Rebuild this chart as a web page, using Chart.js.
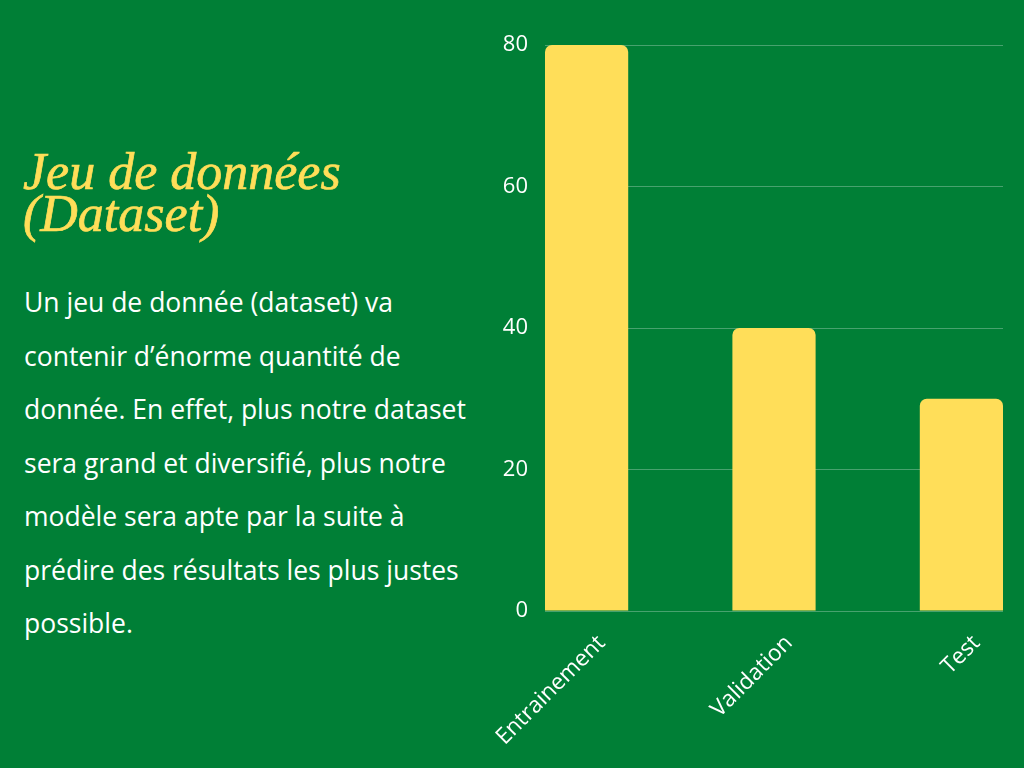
<!DOCTYPE html>
<html><head><meta charset="utf-8">
<script src="https://cdn.jsdelivr.net/npm/chart.js@4/dist/chart.umd.min.js"></script>
<style>
html,body{margin:0;padding:0;}
body{width:1024px;height:768px;background:#007F36;position:relative;overflow:hidden;}
#title{position:absolute;left:23px;top:151px;font-family:"Liberation Serif",serif;font-style:italic;font-size:52px;line-height:42px;color:#FFDE59;white-space:nowrap;-webkit-text-stroke:0.7px #FFDE59;}
#para{position:absolute;left:24px;top:276px;font-family:"Open Sans",sans-serif;font-size:26.5px;line-height:53.5px;color:#fff;white-space:nowrap;}
#wrap{position:absolute;left:440px;top:0;width:584px;height:768px;}
</style></head><body>
<div id="title">Jeu de données<br>(Dataset)</div>
<div id="para">Un jeu de donnée (dataset) va<br>contenir d’énorme quantité de<br>donnée. En effet, plus notre dataset<br>sera grand et diversifié, plus notre<br>modèle sera apte par la suite à<br>prédire des résultats les plus justes<br>possible.</div>
<div id="wrap"><canvas id="c" width="584" height="768"></canvas></div>
<script>
const categories = ["Entrainement", "Validation", "Test"];
const values = [80, 40, 30];
const yTicks = [0, 20, 40, 60, 80];

const data = values.map((v, i) => ({x: i, y: v}));
new Chart(document.getElementById('c'), {
  type: 'bar',
  data: { datasets: [{ data: data, backgroundColor: '#FFDE59', borderRadius: {topLeft: 7, topRight: 7, bottomLeft: 0, bottomRight: 0}, borderSkipped: 'bottom', barPercentage: 0.444, categoryPercentage: 1 }] },
  options: {
    responsive: false, animation: false,
    layout: { padding: { top: 45, right: 21, left: 0, bottom: 0 } },
    plugins: { legend: { display: false }, tooltip: { enabled: false } },
    scales: {
      x: {
        type: 'linear', min: -0.222, max: 2.222, offset: false,
        grid: { display: false }, border: { display: false },
        afterBuildTicks: s => { s.ticks = categories.map((c, i) => ({value: i})); },
        afterFit: s => { s.height = 157; s.paddingLeft = 0; s.paddingRight = 0; },
        ticks: { color: '#fff', font: { family: 'Open Sans', size: 22.5 }, maxRotation: 45, minRotation: 45, padding: 11, labelOffset: 15, autoSkip: false,
          callback: v => categories[v] }
      },
      y: {
        min: 0, max: 80,
        afterBuildTicks: s => { s.ticks = yTicks.map(v => ({value: v})); },
        afterFit: s => { s.width = 105; s.paddingTop = 0; s.paddingBottom = 0; },
        grid: { color: 'rgba(255,255,255,0.28)', lineWidth: 1, drawTicks: false },
        border: { display: false },
        ticks: { color: '#fff', font: { family: 'Open Sans', size: 22 }, padding: 17 }
      }
    }
  }
});
</script>
</body></html>
